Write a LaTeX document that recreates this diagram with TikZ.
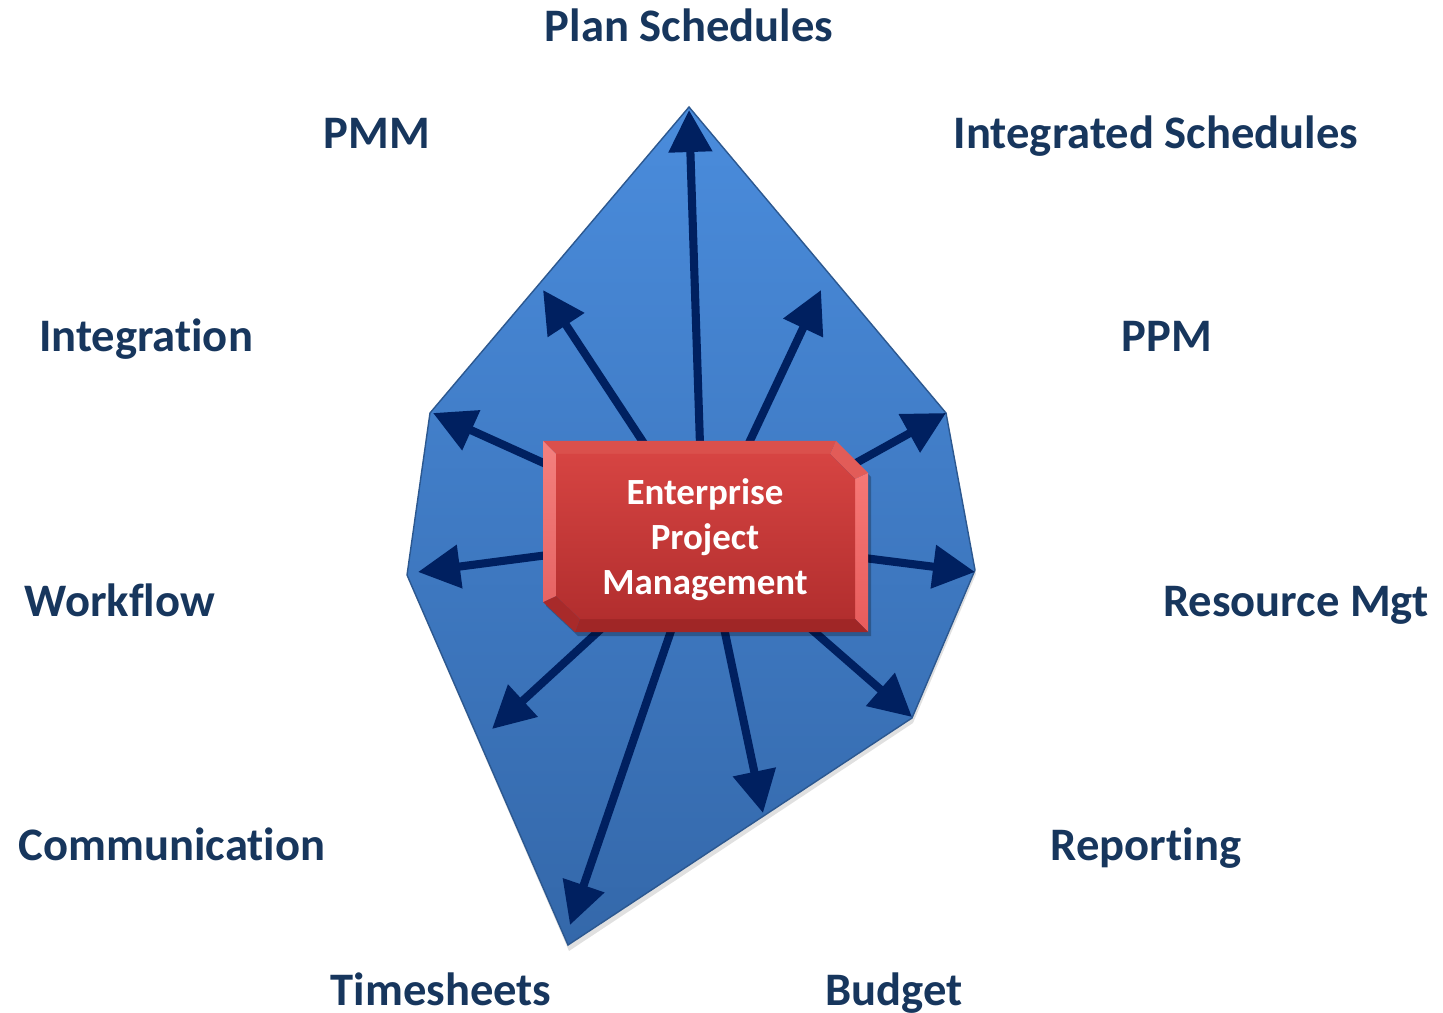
\documentclass[tikz,border=0pt]{standalone}
\usepackage{fontspec}
\setmainfont{Carlito}[Ligatures=NoCommon]
\usetikzlibrary{arrows.meta,calc}
\definecolor{lbl}{RGB}{23,54,93}
\definecolor{arr}{RGB}{0,32,96}
\definecolor{polytop}{RGB}{74,140,220}
\definecolor{polybot}{RGB}{52,104,170}
\definecolor{facetop}{RGB}{214,68,66}
\definecolor{facebot}{RGB}{178,46,46}
\tikzset{
  lab/.style={text=lbl,font=\fontsize{13.25pt}{15pt}\selectfont\bfseries,anchor=base,inner sep=0pt},
  ray/.style={draw=arr,line width=2.3pt,-{Triangle[length=0.42cm,width=0.42cm]}},
  boxtext/.style={text=white,font=\fontsize{10.5pt}{12.8pt}\selectfont\bfseries,align=center,inner sep=0pt}
}
\begin{document}
\begin{tikzpicture}[x=0.01cm,y=-0.01cm]
\useasboundingbox[fill=white] (0,0) rectangle (1443,1013);
% polygon vertices
\coordinate (pT) at (689,107);
\coordinate (pUR) at (946,413);
\coordinate (pR) at (975,570);
\coordinate (pLR) at (912,718);
\coordinate (pB) at (568,945);
\coordinate (pLL) at (407,575);
\coordinate (pUL) at (430,413);
% shadow
\fill[black,opacity=0.12] ($(pT)+(1,4)$) -- ($(pUR)+(1,4)$) -- ($(pR)+(1,4)$) -- ($(pLR)+(1,5)$) -- ($(pB)+(1,6)$) -- ($(pLL)+(1,4)$) -- ($(pUL)+(1,4)$) -- cycle;
\shade[top color=polytop,bottom color=polybot,draw=polybot!85!black,line width=0.4pt]
  (pT) -- (pUR) -- (pR) -- (pLR) -- (pB) -- (pLL) -- (pUL) -- cycle;
% arrow starts and tips
\coordinate (s1) at (700,445); \coordinate (t1) at (689,110);
\coordinate (s2) at (645,445); \coordinate (t2) at (543,290);
\coordinate (s3) at (748,445); \coordinate (t3) at (821,290);
\coordinate (s4) at (548,465); \coordinate (t4) at (433,413);
\coordinate (s5) at (548,555); \coordinate (t5) at (418,572);
\coordinate (s6) at (856,463); \coordinate (t6) at (946,413);
\coordinate (s7) at (864,558); \coordinate (t7) at (975,572);
\coordinate (s8) at (602,628); \coordinate (t8) at (492,729);
\coordinate (s9) at (672,628); \coordinate (t9) at (570,925);
\coordinate (s10) at (724,628); \coordinate (t10) at (763,813);
\coordinate (s11) at (810,628); \coordinate (t11) at (912,717);
\foreach \i in {1,...,11} {\draw[ray] (s\i) -- (t\i);}
% box
\coordinate (O1) at (543,441); \coordinate (O2) at (836,441); \coordinate (O3) at (868,473);
\coordinate (O4) at (868,632); \coordinate (O5) at (575,632); \coordinate (O6) at (543,602);
\coordinate (I1) at (556,454); \coordinate (I2) at (830,454); \coordinate (I3) at (855,479);
\coordinate (I4) at (855,619); \coordinate (I5) at (580,619); \coordinate (I6) at (556,596);
\fill[black,opacity=0.25] ($(O1)+(3,4)$) -- ($(O2)+(3,4)$) -- ($(O3)+(3,4)$) -- ($(O4)+(3,4)$) -- ($(O5)+(3,4)$) -- ($(O6)+(3,4)$) -- cycle;
\fill[fill={rgb,255:red,218;green,80;blue,76}] (O1) -- (O2) -- (I2) -- (I1) -- cycle;
\fill[fill={rgb,255:red,226;green,92;blue,88}] (O2) -- (O3) -- (I3) -- (I2) -- cycle;
\shade[top color={rgb,255:red,246;green,120;blue,118},bottom color={rgb,255:red,232;green,92;blue,92}] (O3) -- (O4) -- (I4) -- (I3) -- cycle;
\fill[fill={rgb,255:red,160;green,38;blue,38}] (O4) -- (O5) -- (I5) -- (I4) -- cycle;
\fill[fill={rgb,255:red,168;green,42;blue,42}] (O5) -- (O6) -- (I6) -- (I5) -- cycle;
\shade[top color={rgb,255:red,244;green,128;blue,126},bottom color={rgb,255:red,230;green,100;blue,100}] (O6) -- (O1) -- (I1) -- (I6) -- cycle;
\shade[top color=facetop,bottom color=facebot] (I1) -- (I2) -- (I3) -- (I4) -- (I5) -- (I6) -- cycle;
\node[boxtext] (epm) at (705,540) {Enterprise\\Project\\Management};
% labels
\node[lab] (plan) at (689,42) {Plan Schedules};
\node[lab] (pmm) at (377,149) {PMM};
\node[lab] (integ) at (1156,149) {Integrated Schedules};
\node[lab] (integration) at (146,352) {Integration};
\node[lab] (ppm) at (1167,352) {PPM};
\node[lab] (workflow) at (120,616) {Workflow};
\node[lab] (resource) at (1296,616) {Resource Mgt};
\node[lab] (comm) at (172,860) {Communication};
\node[lab] (report) at (1146,860) {Reporting};
\node[lab] (times) at (441,1005) {Timesheets};
\node[lab] (budget) at (894,1005) {Budget};
\end{tikzpicture}
\end{document}
